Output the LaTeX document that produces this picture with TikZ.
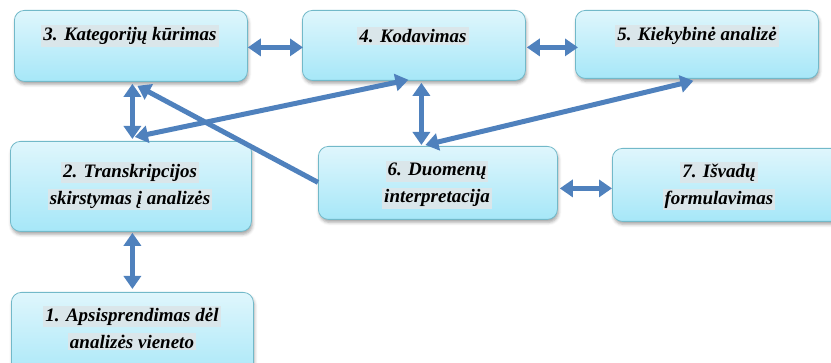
\documentclass[tikz,border=0pt]{standalone}
\usepackage{fontspec}
\setmainfont{Liberation Serif}
\usetikzlibrary{arrows.meta,shadows.blur}

\definecolor{boxtop}{HTML}{DFF6FC}
\definecolor{boxbot}{HTML}{A6E7F8}
\definecolor{boxline}{HTML}{72B9C9}
\definecolor{hlgray}{HTML}{DAE6EA}
\definecolor{arrowblue}{HTML}{4F81BD}

% shaded text strip behind each label line
\newcommand\hlline[1]{{\setlength\fboxsep{2pt}\colorbox{hlgray}{#1}}}

\tikzset{
  stagebox/.style={draw=boxline, line width=0.8pt, rounded corners=10pt,
    top color=boxtop, bottom color=boxbot, anchor=north west,
    blur shadow={shadow xshift=1pt, shadow yshift=-3pt, shadow blur radius=3pt, shadow opacity=35}},
  stagetext/.style={align=center, font=\fontsize{19}{27}\selectfont\bfseries\itshape, inner sep=0pt},
  link/.style={draw=arrowblue, line width=5pt,
    {Triangle[width=17pt,length=13pt]}-{Triangle[width=17pt,length=13pt]}},
  onelink/.style={draw=arrowblue, line width=5pt, -{Triangle[width=17pt,length=13pt]}}
}

\begin{document}
\begin{tikzpicture}[x=1pt,y=-1pt]
\clip (0,0) rectangle (831,363);

% stage boxes
\node[stagebox, minimum width=233pt, minimum height=71pt] (b3) at (14,10) {};
\node[stagebox, minimum width=223pt, minimum height=70pt] (b4) at (302,10) {};
\node[stagebox, minimum width=243pt, minimum height=68pt] (b5) at (575,10) {};
\node[stagebox, minimum width=241pt, minimum height=90pt] (b2) at (10,141) {};
\node[stagebox, minimum width=242pt, minimum height=90pt] (b1) at (11,292) {};
\node[stagebox, minimum width=239pt, minimum height=73pt] (b6) at (318,146) {};
\node[stagebox, minimum width=240pt, minimum height=73pt] (b7) at (612,148) {};

% labels
\node[stagetext] (t3) at (130,36) {\hlline{3. Kategorijų kūrimas}};
\node[stagetext] (t4) at (413,36) {\hlline{4. Kodavimas}};
\node[stagetext] (t5) at (697,36) {\hlline{5. Kiekybinė analizė}};
\node[stagetext] (t2) at (130,186) {\hlline{2. Transkripcijos}\\\hlline{skirstymas į analizės}};
\node[stagetext] (t1) at (132,328) {\hlline{1. Apsisprendimas dėl}\\\hlline{analizės vieneto}};
\node[stagetext] (t6) at (437,185) {\hlline{6. Duomenų}\\\hlline{interpretacija}};
\node[stagetext] (t7) at (719,186) {\hlline{7. Išvadų}\\\hlline{formulavimas}};

% connectors
\draw[link] ([yshift=-1.5pt]b3.east) -- ([xshift=1pt,yshift=-2pt]b4.west);
\draw[link] ([xshift=1pt,yshift=-2pt]b4.east) -- ([xshift=3pt,yshift=-3pt]b5.west);
\draw[link] ([xshift=1.5pt,yshift=-2pt]b3.south) -- ([xshift=1.5pt,yshift=2pt]b2.north);
\draw[link] ([xshift=1.5pt,yshift=-1pt]b2.south) -- ([yshift=3pt]b1.north);
\draw[link] ([xshift=7.5pt,yshift=-2pt]b4.south) -- ([xshift=-16.5pt,yshift=1pt]b6.north);
\draw[link] ([xshift=4pt,yshift=4pt]b2.north) -- ([xshift=-5.5pt,yshift=1pt]b4.south);
\draw[link] ([xshift=-3.5pt,yshift=-2pt]b5.south) -- ([xshift=-12.5pt,yshift=1pt]b6.north);
\draw[link] ([xshift=2pt,yshift=-5.5pt]b6.east) -- ([yshift=-3.5pt]b7.west);
\draw[onelink] ([yshift=0.5pt]b6.west) -- ([xshift=6.5pt,yshift=-4pt]b3.south);
\end{tikzpicture}
\end{document}
